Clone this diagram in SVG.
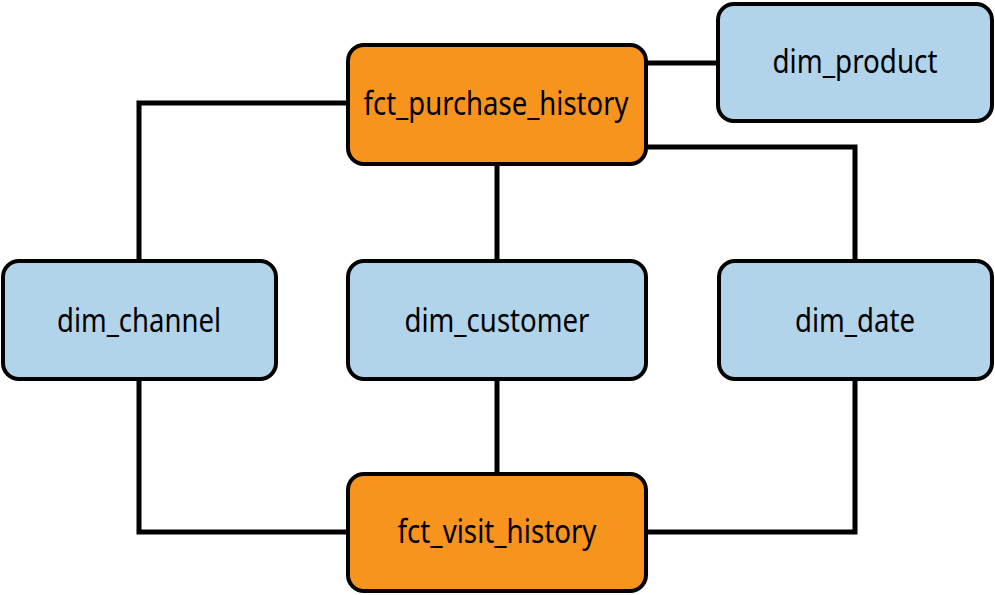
<svg xmlns="http://www.w3.org/2000/svg" width="995" height="595" viewBox="0 0 995 595">
<style>
.box{stroke:#000;stroke-width:4}
.fct{fill:#F7941D}
.dim{fill:#B2D4EA}
.lbl{font-family:"Noto Sans","Liberation Sans",sans-serif;font-size:32px;fill:#000;text-anchor:middle}
.con{fill:none;stroke:#000;stroke-width:5}
</style>
<rect width="995" height="595" fill="#fff"/>
<g id="connectors">
<polyline class="con" points="347,103 139,103 139,260"/>
<line class="con" x1="646" y1="63" x2="717" y2="63"/>
<polyline class="con" points="646,147 855,147 855,260"/>
<line class="con" x1="497" y1="164" x2="497" y2="260"/>
<line class="con" x1="497" y1="379" x2="497" y2="473"/>
<polyline class="con" points="139,379 139,532 347,532"/>
<polyline class="con" points="646,532 855,532 855,379"/>
</g>
<g id="fct_purchase_history">
<rect class="box fct" x="348" y="45" width="298" height="119" rx="16"/>
<text class="lbl" x="496" y="115" textLength="265" lengthAdjust="spacingAndGlyphs">fct_purchase_history</text>
</g>
<g id="dim_product">
<rect class="box dim" x="718" y="4" width="274" height="117" rx="16"/>
<text class="lbl" x="855" y="73" textLength="165" lengthAdjust="spacingAndGlyphs">dim_product</text>
</g>
<g id="dim_channel">
<rect class="box dim" x="3" y="261" width="273" height="118" rx="16"/>
<text class="lbl" x="139" y="332" textLength="164" lengthAdjust="spacingAndGlyphs">dim_channel</text>
</g>
<g id="dim_customer">
<rect class="box dim" x="348" y="261" width="298" height="118" rx="16"/>
<text class="lbl" x="497" y="332" textLength="185" lengthAdjust="spacingAndGlyphs">dim_customer</text>
</g>
<g id="dim_date">
<rect class="box dim" x="719" y="261" width="273" height="118" rx="16"/>
<text class="lbl" x="855" y="332" textLength="120" lengthAdjust="spacingAndGlyphs">dim_date</text>
</g>
<g id="fct_visit_history">
<rect class="box fct" x="348" y="474" width="298" height="117" rx="16"/>
<text class="lbl" x="497" y="543" textLength="199" lengthAdjust="spacingAndGlyphs">fct_visit_history</text>
</g>
</svg>
